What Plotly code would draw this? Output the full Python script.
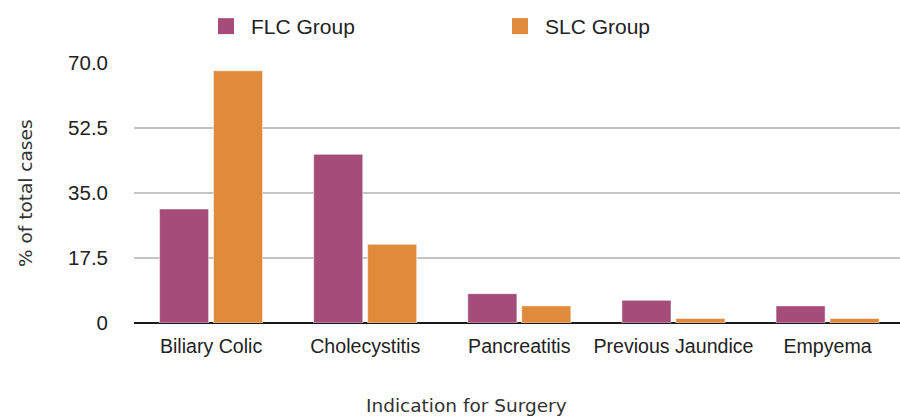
import plotly.graph_objects as go

# Indication for surgery, % of total cases per group
categories = ["Biliary Colic", "Cholecystitis", "Pancreatitis", "Previous Jaundice", "Empyema"]
flc_values = [30.7, 45.4, 7.9, 6.1, 4.6]
slc_values = [67.9, 21.2, 4.6, 1.2, 1.2]

y_tick_vals = [0, 17.5, 35.0, 52.5, 70.0]
y_tick_text = ["0", "17.5", "35.0", "52.5", "70.0"]

FLC_COLOR = "#a64c78"
SLC_COLOR = "#e08a3c"

fig = go.Figure()

fig.add_trace(go.Bar(
    x=categories, y=flc_values, name="FLC Group",
    marker=dict(color=FLC_COLOR, line=dict(color="rgba(255,255,255,0.5)", width=1)),
    showlegend=False,
))
fig.add_trace(go.Bar(
    x=categories, y=slc_values, name="SLC Group",
    marker=dict(color=SLC_COLOR, line=dict(color="rgba(255,255,255,0.5)", width=1)),
    showlegend=False,
))

# legend entries with larger square swatches
for name, color in [("FLC Group", FLC_COLOR), ("SLC Group", SLC_COLOR)]:
    fig.add_trace(go.Scatter(
        x=[None], y=[None], mode="markers", name=name,
        marker=dict(symbol="square", size=20, color=color),
        showlegend=True,
    ))

fig.update_layout(
    width=900, height=416,
    margin=dict(l=134, r=0, t=63, b=93),
    paper_bgcolor="white", plot_bgcolor="white",
    barmode="group", bargap=0.3, bargroupgap=0.09,
    font=dict(family="Liberation Sans, Arial, sans-serif", color="#222222", size=19),
    legend=dict(
        orientation="h", xref="container", yref="container",
        x=201 / 900, y=1 - 6 / 416, xanchor="left", yanchor="top",
        entrywidth=239, entrywidthmode="pixels", itemwidth=40,
        font=dict(size=21, color="#222222"),
        bgcolor="rgba(0,0,0,0)",
    ),
    xaxis=dict(
        range=[-0.5, 4.47], showgrid=False, showline=False, zeroline=False,
        ticks="", tickfont=dict(size=19.6), ticklabelstandoff=9,
    ),
    yaxis=dict(
        range=[0, 70], tickvals=y_tick_vals, ticktext=y_tick_text,
        showgrid=True, gridcolor="#c4c4c4", gridwidth=2,
        zeroline=True, zerolinecolor="#1a1a1a", zerolinewidth=2,
        showline=False, ticks="", tickfont=dict(size=20.5),
        ticklabelstandoff=25,
    ),
    annotations=[
        dict(text="% of total cases", xref="paper", yref="paper",
             x=(25 - 134) / 766, y=(323 - 193) / 260, textangle=-90,
             showarrow=False, xanchor="center", yanchor="middle",
             font=dict(family="DejaVu Sans, sans-serif", size=18.5, color="#333333")),
        dict(text="Indication for Surgery", xref="paper", yref="paper",
             x=(466 - 134) / 766, y=(323 - 405) / 260,
             showarrow=False, xanchor="center", yanchor="middle",
             font=dict(family="DejaVu Sans, sans-serif", size=18.5, color="#333333")),
    ],
)

fig.write_html("out.html")
